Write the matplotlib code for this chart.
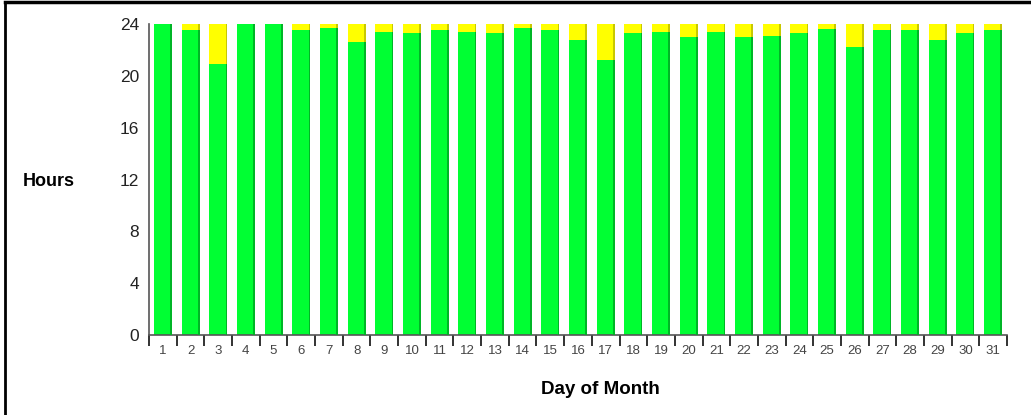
import matplotlib
matplotlib.use("Agg")
import matplotlib.pyplot as plt
from matplotlib.lines import Line2D
import numpy as np

days = list(range(1, 32))
up_hours = [24.0, 23.5, 20.9, 24.0, 24.0, 23.5, 23.7, 22.6, 23.4, 23.3,
            23.5, 23.4, 23.3, 23.7, 23.5, 22.8, 21.2, 23.3, 23.4, 23.0,
            23.4, 23.0, 23.1, 23.3, 23.6, 22.2, 23.5, 23.5, 22.8, 23.3, 23.5]
total_hours = 24.0
down_hours = [total_hours - u for u in up_hours]
y_ticks = [0, 4, 8, 12, 16, 20, 24]

plt.rcParams['font.family'] = ['Liberation Sans', 'DejaVu Sans']

fig = plt.figure(figsize=(10.31, 4.15), dpi=100)
ax = fig.add_axes([149/1031, 80/415, (1007-149)/1031, (335-24)/415])

x = np.array(days)
w = 0.65
green, green_dark = '#00FF33', '#00B526'
yellow, yellow_dark = '#FFFF00', '#C8C800'
ax.bar(x, up_hours, width=w, color=green, linewidth=0, zorder=2)
ax.bar(x, down_hours, bottom=up_hours, width=w, color=yellow, linewidth=0, zorder=2)
sw = 0.06
ax.bar(x + w/2 - sw/2, up_hours, width=sw, color=green_dark, linewidth=0, zorder=3)
ax.bar(x + w/2 - sw/2, down_hours, bottom=up_hours, width=sw, color=yellow_dark, linewidth=0, zorder=3)

ax.set_xlim(0.5, 31.5)
ax.set_ylim(0, 24)
ax.set_yticks(y_ticks)
ax.set_yticklabels([str(t) for t in y_ticks], fontsize=12.5, color='#222222')
ax.tick_params(axis='y', length=0, pad=7)

# ticks at slot boundaries, labels at slot centres
ax.set_xticks(np.arange(0.5, 32, 1.0))
ax.set_xticklabels([])
ax.set_xticks(x, minor=True)
ax.set_xticklabels([str(d) for d in days], minor=True, fontsize=9.5, color='#444444')
ax.tick_params(axis='x', which='major', length=8, width=1.3, color='#222222', direction='out')
ax.tick_params(axis='x', which='minor', length=0, pad=7)

for s in ['top', 'right']:
    ax.spines[s].set_visible(False)
ax.spines['left'].set_color('#555555')
ax.spines['bottom'].set_color('#555555')
ax.spines['left'].set_linewidth(1.2)
ax.spines['bottom'].set_linewidth(1.2)

fig.text(23/1031, 1 - 181/415, 'Hours', fontsize=13, fontweight='bold', va='center', ha='left')
fig.text(600/1031, 1 - 389/415, 'Day of Month', fontsize=13.5, fontweight='bold', va='center', ha='center')

# outer frame
fig.add_artist(Line2D([5/1031, 5/1031], [0, 1 - 2/415], transform=fig.transFigure, color='black', lw=2))
fig.add_artist(Line2D([5/1031, 1], [1 - 2/415, 1 - 2/415], transform=fig.transFigure, color='black', lw=2.5))

fig.savefig('out.png', dpi=100)
